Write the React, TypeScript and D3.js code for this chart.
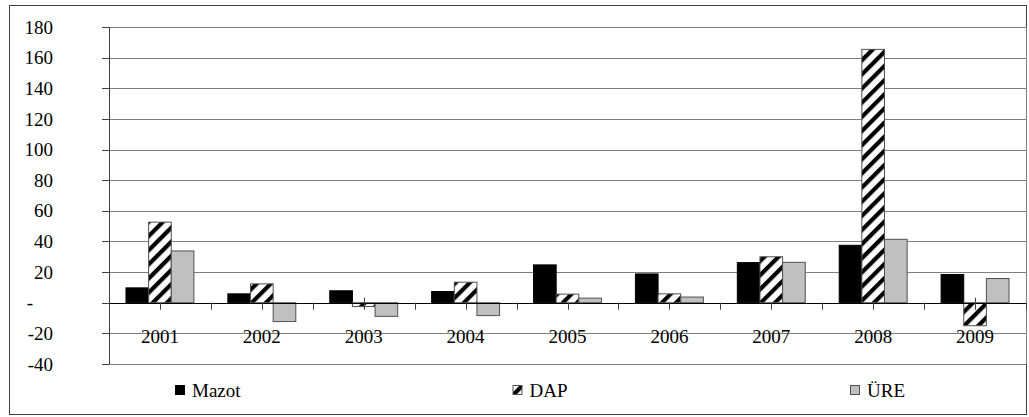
import React from "react";
import * as d3 from "d3";

const years = ["2001", "2002", "2003", "2004", "2005", "2006", "2007", "2008", "2009"];
const seriesNames = ["Mazot", "DAP", "ÜRE"];
const mazot = [9.7, 5.8, 7.8, 7.3, 24.7, 18.8, 26.2, 37.5, 18.4];
const dap = [52.6, 12.3, -2.5, 13.4, 5.6, 5.8, 30, 165.4, -15];
const ure = [33.8, -12.3, -8.9, -8.4, 3, 3.7, 26.4, 41.4, 15.8];
const yTicks = [-40, -20, 0, 20, 40, 60, 80, 100, 120, 140, 160, 180];

const W = 1029;
const H = 417;
const plot = { left: 109, right: 1026, top: 27, bottom: 364 };
const font = "Liberation Serif";

const fills: Record<string, string> = {
  Mazot: "#000000",
  DAP: "url(#dapStripes)",
  "ÜRE": "#c0c0c0",
};

export default function App() {
  const x = d3.scaleBand().domain(years).range([plot.left, plot.right]);
  const xInner = d3
    .scaleBand()
    .domain(seriesNames)
    .range([0, x.bandwidth()])
    .paddingOuter(0.75);
  const y = d3.scaleLinear().domain([-40, 180]).range([plot.bottom, plot.top]);
  const y0 = y(0);

  const rows = years.map((yr, i) => ({
    year: yr,
    values: [
      { key: "Mazot", v: mazot[i] },
      { key: "DAP", v: dap[i] },
      { key: "ÜRE", v: ure[i] },
    ],
  }));

  // half-category tick positions along the category axis
  const halfTicks: number[] = [];
  years.forEach((yr) => {
    halfTicks.push(x(yr)!);
    halfTicks.push(x(yr)! + x.bandwidth() / 2);
  });
  halfTicks.push(plot.right);

  const fmt = (d: number) => (d === 0 ? "-" : String(d));

  const legendX = d3.scalePoint().domain(seriesNames).range([175, 850]);

  return (
    <svg
      width={W}
      height={H}
      style={{ position: "absolute", left: 0, top: 0, background: "#fff" }}
    >
      <defs>
        <pattern
          id="dapStripes"
          patternUnits="userSpaceOnUse"
          width={10}
          height={10}
          patternTransform="rotate(45)"
        >
          <rect width={10} height={10} fill="#fff" />
          <rect x={0} width={4.2} height={10} fill="#000" />
        </pattern>
      </defs>

      {/* outer chart border */}
      <rect x={9.5} y={5.5} width={1017} height={409} fill="#fff" stroke="#404040" strokeWidth={1} />

      {/* gridlines */}
      {yTicks.map((t) => (
        <line
          key={"g" + t}
          x1={plot.left}
          x2={plot.right}
          y1={Math.round(y(t)) + 0.5}
          y2={Math.round(y(t)) + 0.5}
          stroke="#808080"
          strokeWidth={1}
        />
      ))}
      <line
        x1={plot.right + 0.5}
        x2={plot.right + 0.5}
        y1={y(180)}
        y2={y(-40)}
        stroke="#808080"
      />

      {/* center ticks (behind bars) */}
      {years.map((yr) => {
        const cx = Math.round(x(yr)! + x.bandwidth() / 2) + 0.5;
        return <line key={"ct" + yr} x1={cx} x2={cx} y1={y0 - 5} y2={y0} stroke="#404040" />;
      })}

      {/* bars */}
      {rows.map((r) =>
        r.values.map((d) => {
          const bx = x(r.year)! + xInner(d.key)!;
          const top = y(Math.max(0, d.v));
          const h = Math.abs(y(d.v) - y0);
          return (
            <rect
              key={r.year + d.key}
              x={bx}
              y={top}
              width={xInner.bandwidth()}
              height={h}
              fill={fills[d.key]}
              stroke={d.key === "Mazot" ? "#000" : "#505050"}
              strokeWidth={1}
            />
          );
        })
      )}

      {/* category axis line and ticks */}
      <line x1={plot.left} x2={plot.right} y1={Math.round(y0) + 0.5} y2={Math.round(y0) + 0.5} stroke="#000" />
      {halfTicks.map((tx, i) => (
        <line
          key={"ht" + i}
          x1={Math.round(tx) + 0.5}
          x2={Math.round(tx) + 0.5}
          y1={y0}
          y2={y0 + 7}
          stroke="#404040"
        />
      ))}

      {/* value axis */}
      <line x1={plot.left + 0.5} x2={plot.left + 0.5} y1={y(180)} y2={y(-40)} stroke="#404040" />
      {yTicks.map((t) => (
        <g key={"yt" + t}>
          <line
            x1={plot.left - 7}
            x2={plot.left}
            y1={Math.round(y(t)) + 0.5}
            y2={Math.round(y(t)) + 0.5}
            stroke="#404040"
          />
          <text
            x={t === 0 ? 33 : 53}
            y={y(t)}
            dy="0.35em"
            textAnchor="end"
            fontFamily={font}
            fontSize={19}
            fill="#000"
          >
            {fmt(t)}
          </text>
        </g>
      ))}

      {/* category labels */}
      {years.map((yr) => (
        <text
          key={"xl" + yr}
          x={x(yr)! + x.bandwidth() / 2}
          y={343}
          textAnchor="middle"
          fontFamily={font}
          fontSize={19}
          fill="#000"
        >
          {yr}
        </text>
      ))}

      {/* legend */}
      {seriesNames.map((s) => {
        const lx = legendX(s)!;
        return (
          <g key={"lg" + s}>
            <rect
              x={lx + 0.5}
              y={385.5}
              width={9}
              height={9}
              fill={fills[s]}
              stroke={s === "Mazot" ? "#000" : "#505050"}
            />
            <text x={lx + 17} y={397} fontFamily={font} fontSize={19} fill="#000">
              {s}
            </text>
          </g>
        );
      })}
    </svg>
  );
}
